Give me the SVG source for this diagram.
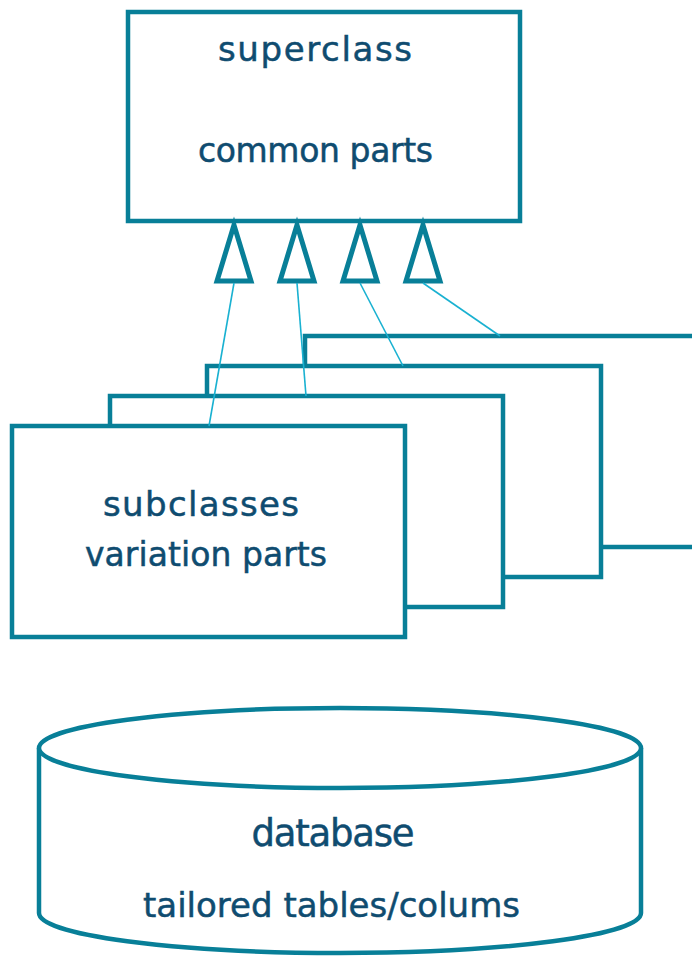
<svg xmlns="http://www.w3.org/2000/svg" width="692" height="956" viewBox="0 0 692 956">
  <style>
    .box { fill: #ffffff; stroke: #087f98; stroke-width: 4.5; }
    .tri { fill: #ffffff; stroke: #087f98; stroke-width: 5; stroke-linejoin: miter; }
    .link { fill: none; stroke: #19b1d1; stroke-width: 1.6; }
    .lbl { font-family: "DejaVu Sans", "Liberation Sans", sans-serif; fill: #0f4c70; stroke: #0f4c70; stroke-width: 0.5; text-anchor: middle; }
  </style>
  <rect width="692" height="956" fill="#ffffff"/>

  <!-- superclass with inheritance triangles -->
  <g id="superclass">
    <rect class="box" x="128" y="12" width="392" height="209"/>
    <text class="lbl" x="315" y="61" font-size="34" textLength="194" lengthAdjust="spacing">superclass</text>
    <text class="lbl" x="315.5" y="162" font-size="33" textLength="235" lengthAdjust="spacing">common parts</text>
    <polygon class="tri" points="234,225 217,281 251,281"/>
    <polygon class="tri" points="297,225 280,281 314,281"/>
    <polygon class="tri" points="360,225 343,281 377,281"/>
    <polygon class="tri" points="423,225 406,281 440,281"/>
  </g>

  <!-- stacked subclasses, back to front -->
  <g id="subclass-4">
    <rect class="box" x="305" y="336" width="394" height="211"/>
  </g>
  <g id="subclass-3">
    <rect class="box" x="207" y="366" width="394" height="211"/>
  </g>
  <g id="subclass-2">
    <rect class="box" x="110" y="396" width="393" height="211"/>
  </g>
  <g id="subclasses">
    <rect class="box" x="12" y="426" width="393" height="211"/>
    <text class="lbl" x="201" y="516" font-size="34" textLength="196" lengthAdjust="spacing">subclasses</text>
    <text class="lbl" x="206" y="566" font-size="33" textLength="242" lengthAdjust="spacing">variation parts</text>
  </g>

  <!-- generalization links -->
  <g id="connectors">
    <line class="link" x1="234" y1="283" x2="209" y2="426"/>
    <line class="link" x1="297" y1="283" x2="306" y2="396"/>
    <line class="link" x1="360" y1="283" x2="403" y2="366"/>
    <line class="link" x1="423" y1="283" x2="500" y2="336"/>
  </g>

  <!-- database cylinder -->
  <g id="database">
    <path class="box" d="M39,748 L39,913 A301,40 0 0 0 641,913 L641,748"/>
    <ellipse class="box" cx="340" cy="748" rx="301" ry="40"/>
    <text class="lbl" x="333" y="846" font-size="37" textLength="163" lengthAdjust="spacing">database</text>
    <text class="lbl" x="331.5" y="917" font-size="34" textLength="377" lengthAdjust="spacing">tailored tables/colums</text>
  </g>
</svg>
